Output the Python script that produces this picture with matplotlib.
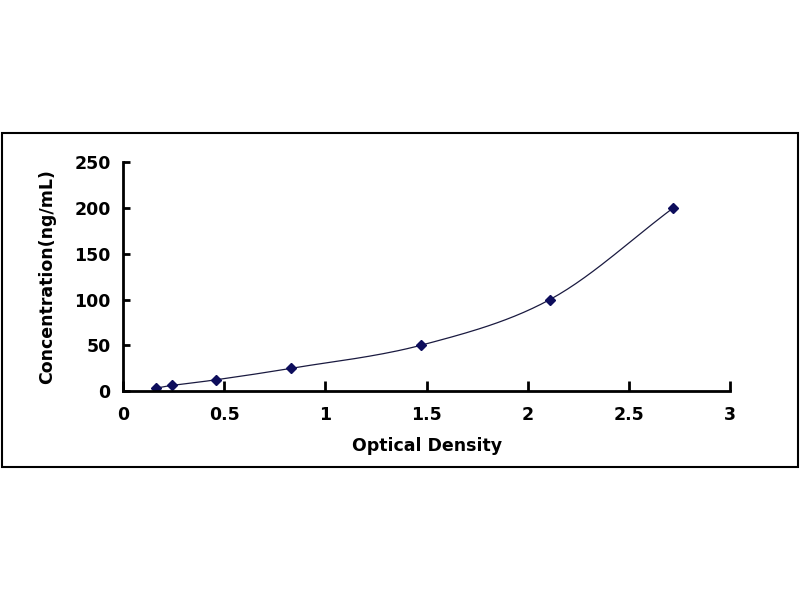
import numpy as np
import matplotlib
matplotlib.use('Agg')
import matplotlib.pyplot as plt
from matplotlib.patches import Rectangle

# standard curve data
od = [0.16, 0.24, 0.46, 0.83, 1.47, 2.11, 2.72]
conc = [3.125, 6.25, 12.5, 25, 50, 100, 200]


def smooth(xs, ys, n=30):
    # catmull-rom style smoothing like excel's smoothed line
    xs = np.asarray(xs, float)
    ys = np.asarray(ys, float)
    px = np.concatenate([[2 * xs[0] - xs[1]], xs, [2 * xs[-1] - xs[-2]]])
    py = np.concatenate([[2 * ys[0] - ys[1]], ys, [2 * ys[-1] - ys[-2]]])
    outx, outy = [], []
    t = np.linspace(0, 1, n)
    for i in range(1, len(px) - 2):
        for p, out in ((px, outx), (py, outy)):
            p0, p1, p2, p3 = p[i - 1], p[i], p[i + 1], p[i + 2]
            seg = 0.5 * ((2 * p1) + (-p0 + p2) * t
                         + (2 * p0 - 5 * p1 + 4 * p2 - p3) * t ** 2
                         + (-p0 + 3 * p1 - 3 * p2 + p3) * t ** 3)
            out.extend(seg)
    return np.array(outx), np.array(outy)


plt.rcParams['font.family'] = ['DejaVu Sans']
plt.rcParams['font.weight'] = 'bold'

fig = plt.figure(figsize=(8, 6), dpi=100)
fig.patches.append(Rectangle((0.003, 0.222), 0.994, 0.556, transform=fig.transFigure,
                             fill=False, edgecolor='black', linewidth=1.5))

ax = fig.add_axes([0.154, 0.348, 0.7585, 0.382])
sx, sy = smooth(od, conc)
ax.plot(sx, sy, color='#1a1a40', linewidth=0.9)
ax.plot(od, conc, linestyle='none', marker='D', markersize=5,
        color='#0d0d5c')

ax.set_xlim(0, 3)
ax.set_ylim(0, 250)
ax.set_xticks([0, 0.5, 1, 1.5, 2, 2.5, 3])
ax.set_xticklabels(['0', '0.5', '1', '1.5', '2', '2.5', '3'])
ax.set_yticks([0, 50, 100, 150, 200, 250])

for s in ['top', 'right']:
    ax.spines[s].set_visible(False)
for s in ['left', 'bottom']:
    ax.spines[s].set_linewidth(2)

ax.tick_params(axis='x', direction='in', length=7, width=2, pad=11, labelsize=12.5)
ax.tick_params(axis='y', direction='in', length=5, width=2, pad=9, labelsize=12.5)

ax.set_xlabel('Optical Density', fontsize=12.5, fontweight='bold', labelpad=9)
ax.set_ylabel('Concentration(ng/mL)', fontsize=12.5, fontweight='bold', labelpad=13)

fig.savefig('out.png', dpi=100)
